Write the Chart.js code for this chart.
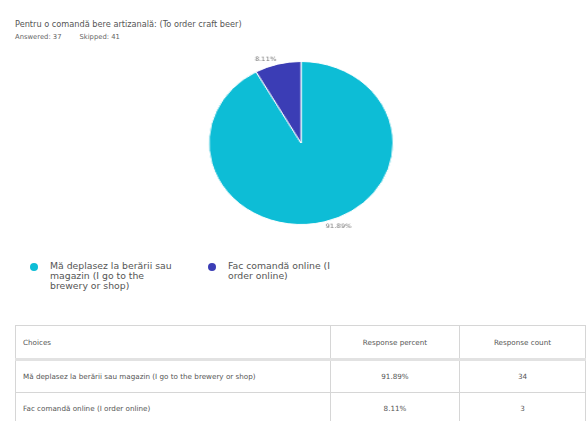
<!DOCTYPE html>
<html>
<head>
<meta charset="utf-8">
<script src="https://cdn.jsdelivr.net/npm/chart.js@4.4.1/dist/chart.umd.min.js"></script>
<style>
  html, body { margin:0; padding:0; background:#fff; }
  body { width:587px; height:421px; position:relative; overflow:hidden; font-family:"DejaVu Sans", Verdana, sans-serif; color:#555; }
  #title { position:absolute; left:15px; top:19px; font-size:8.2px; color:#555; white-space:nowrap; }
  #meta { position:absolute; left:15px; top:33px; font-size:6.8px; color:#666; white-space:nowrap; }
  #meta span { margin-right:18px; }
  #wrap { position:absolute; left:191px; top:43px; width:220px; height:200px; transform:scaleX(1.13); transform-origin:110px 100px; }
  #legend { position:absolute; left:0; top:260px; width:587px; }
  .li { position:absolute; font-size:9.3px; line-height:10px; color:#555; }
  .dot { position:absolute; width:8px; height:8px; border-radius:50%; }
  table { position:absolute; left:15px; top:325px; width:571px; border-collapse:collapse; font-size:7.2px; color:#555; }
  td, th { border:1px solid #d6d6d6; font-weight:normal; }
  th { height:30px; border-bottom:3px solid #e2e2e2; }
  td { height:29px; }
  .c1 { text-align:left; padding-left:7px; width:306px; }
  .c2 { text-align:center; width:126px; }
  .c3 { text-align:center; }
</style>
</head>
<body>
<div id="title"></div>
<div id="meta"></div>
<div id="wrap"><canvas id="c" width="220" height="200"></canvas></div>
<div id="legend"></div>
<table id="tbl"></table>
<script>
const questionTitle = "Pentru o comandă bere artizanală: (To order craft beer)";
const answered = 37;
const skipped = 41;
const categories = ["Mă deplasez la berării sau magazin (I go to the brewery or shop)", "Fac comandă online (I order online)"];
const legendLines = [["Mă deplasez la berării sau", "magazin (I go to the", "brewery or shop)"], ["Fac comandă online (I", "order online)"]];
const percents = [91.89, 8.11];
const counts = [34, 3];
const colors = ["#0dbdd6", "#3b3db5"];

document.getElementById('title').textContent = questionTitle;
document.getElementById('meta').innerHTML = '<span>Answered: ' + answered + '</span><span>Skipped: ' + skipped + '</span>';

// legend
const lg = document.getElementById('legend');
const legendX = [30, 208];
legendLines.forEach((lines, i) => {
  const d = document.createElement('div');
  d.className = 'dot';
  d.style.left = legendX[i] + 'px';
  d.style.top = '3px';
  d.style.background = colors[i];
  lg.appendChild(d);
  const t = document.createElement('div');
  t.className = 'li';
  t.style.left = (legendX[i] + 20) + 'px';
  t.style.top = '1px';
  t.innerHTML = lines.join('<br>');
  lg.appendChild(t);
});

// table
const tbl = document.getElementById('tbl');
let html = '<tr><th class="c1">Choices</th><th class="c2">Response percent</th><th class="c3">Response count</th></tr>';
categories.forEach((c, i) => {
  html += '<tr><td class="c1">' + c + '</td><td class="c2">' + percents[i].toFixed(2) + '%</td><td class="c3">' + counts[i] + '</td></tr>';
});
tbl.innerHTML = html;

const outLabels = {
  id: 'outLabels',
  afterDatasetsDraw(chart) {
    const ctx = chart.ctx;
    const meta = chart.getDatasetMeta(0);
    ctx.save();
    ctx.font = '6px "DejaVu Sans"';
    ctx.fillStyle = '#777';
    ctx.textBaseline = 'middle';
    meta.data.forEach((arc, i) => {
      const p = arc.getProps(['x','y','startAngle','endAngle','outerRadius'], true);
      const mid = (p.startAngle + p.endAngle) / 2;
      const r = p.outerRadius + 5;
      const x = p.x + Math.cos(mid) * r;
      const y = p.y + Math.sin(mid) * r;
      ctx.textAlign = Math.cos(mid) >= 0 ? 'left' : 'right';
      ctx.fillText(percents[i].toFixed(2) + '%', x, y);
    });
    ctx.restore();
  }
};

new Chart(document.getElementById('c'), {
  type: 'pie',
  data: {
    labels: categories,
    datasets: [{ data: counts, backgroundColor: colors, borderColor: '#ffffff', borderWidth: 1 }]
  },
  options: {
    responsive: false,
    animation: false,
    layout: { padding: { top: 18, bottom: 18, left: 28, right: 28 } },
    plugins: { legend: { display: false }, tooltip: { enabled: false } }
  },
  plugins: [outLabels]
});
</script>
</body>
</html>
